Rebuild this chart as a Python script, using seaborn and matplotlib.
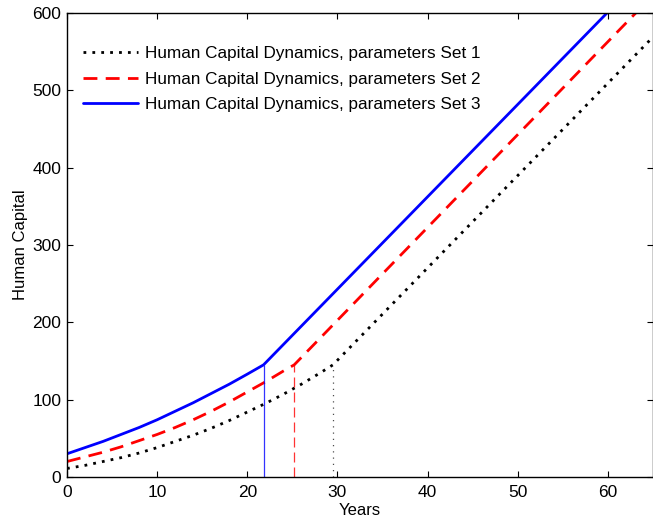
import numpy as np
import pandas as pd
import matplotlib
matplotlib.use("Agg")
import matplotlib.pyplot as plt
import seaborn as sns

# Data
years_set1 = [0, 2, 4, 6, 8, 10, 12, 14, 16, 18, 20, 22, 24, 26, 28, 29.5, 65]
hc_set1 = [11, 15, 20, 25, 31, 38, 46, 54, 63, 73, 84, 95, 107, 120, 134, 145, 569]

years_set2 = [0, 2, 4, 6, 8, 10, 12, 14, 16, 18, 20, 22, 24, 25.2, 65]
hc_set2 = [20, 26, 32, 39, 47, 55, 64, 74, 85, 97, 110, 123, 137, 145, 623]

years_set3 = [0, 2, 4, 6, 8, 10, 12, 14, 16, 18, 20, 21.8, 65]
hc_set3 = [30, 38, 46, 55, 64, 74, 85, 96, 108, 120, 133, 145, 661]

kink_years = [29.5, 25.2, 21.8]
kink_values = [145, 145, 145]

labels = ["Human Capital Dynamics, parameters Set 1",
          "Human Capital Dynamics, parameters Set 2",
          "Human Capital Dynamics, parameters Set 3"]

sns.set_style("ticks")
plt.rcParams['font.family'] = ['Liberation Sans', 'DejaVu Sans']
plt.rcParams['xtick.direction'] = 'in'
plt.rcParams['ytick.direction'] = 'in'
plt.rcParams['text.color'] = 'black'
plt.rcParams['axes.labelcolor'] = 'black'
plt.rcParams['xtick.color'] = 'black'
plt.rcParams['ytick.color'] = 'black'
plt.rcParams['xtick.labelcolor'] = 'black'
plt.rcParams['ytick.labelcolor'] = 'black'

fig = plt.figure(figsize=(6.53, 5.21), dpi=100)
ax = fig.add_axes([0.1026, 0.0845, 0.8974, 0.8905])

series = [(years_set1, hc_set1), (years_set2, hc_set2), (years_set3, hc_set3)]
colors = ["black", "#ff0000", "#0000ff"]
styles = [(0, (1, 2.2)), (0, (5, 3)), "-"]
vstyles = [(0, (1, 4)), (0, (8, 4)), "-"]

for (xs, ys), c, ls, lab in zip(series, colors, styles, labels):
    df = pd.DataFrame({"Years": xs, "HC": ys})
    sns.lineplot(data=df, x="Years", y="HC", ax=ax, color=c, linestyle=ls,
                 linewidth=2.0, label=lab, estimator=None, sort=False)

for kx, kv, c, vs in zip(kink_years, kink_values, colors, vstyles):
    ax.vlines(kx, 0, kv, colors=c, linestyles=[vs], linewidth=0.9,
              alpha=0.8 if c != "black" else 0.7)

ax.set_xlim(0, 65)
ax.set_ylim(0, 600)
ax.set_xticks(range(0, 61, 10))
ax.set_yticks(range(0, 601, 100))
ax.tick_params(axis='both', which='both', top=True, right=True, length=4,
               width=0.8, labelsize=12.5, color='black', labelcolor='black')
ax.tick_params(axis='x', pad=6)
ax.tick_params(axis='y', pad=4)
for s in ax.spines.values():
    s.set_color('black')
    s.set_linewidth(1.0)

ax.set_xlabel("Years", fontsize=12, labelpad=2, color='black')
ax.set_ylabel("Human Capital", fontsize=12, labelpad=3, color='black')

leg = ax.legend(loc='upper left', frameon=False, fontsize=12.3,
                handlelength=3.2, handletextpad=0.4, labelspacing=0.6,
                bbox_to_anchor=(0.0, 0.963), borderaxespad=0.55)
for t in leg.get_texts():
    t.set_color('black')

fig.savefig("out.png", dpi=100)
